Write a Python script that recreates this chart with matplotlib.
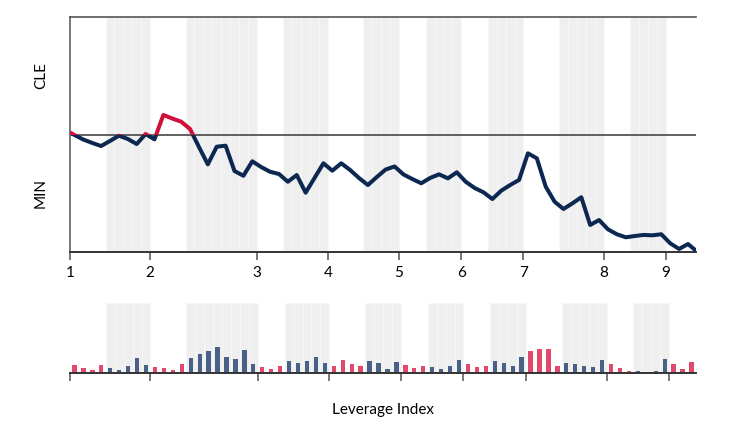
import matplotlib
matplotlib.use("Agg")
import matplotlib.pyplot as plt
from matplotlib.patches import Rectangle

plt.rcParams['font.family'] = ['Lato', 'DejaVu Sans']

# leverage line, one value per period (0..2 scale, 1 = MIN/CLE boundary)
lev_start = 1.017
lev = [0.996, 0.957, 0.928, 0.902, 0.945, 0.990, 0.962, 0.919, 1.004, 0.959,
       1.166, 1.136, 1.109, 1.047, 0.894, 0.746, 0.896, 0.905, 0.689, 0.649,
       0.772, 0.723, 0.683, 0.664, 0.598, 0.655, 0.505, 0.630, 0.755, 0.692,
       0.755, 0.698, 0.630, 0.570, 0.638, 0.702, 0.728, 0.660, 0.621, 0.585,
       0.630, 0.661, 0.627, 0.678, 0.598, 0.545, 0.508, 0.451, 0.522, 0.570,
       0.613, 0.840, 0.797, 0.556, 0.428, 0.366, 0.414, 0.466, 0.230, 0.272,
       0.193, 0.151, 0.125, 0.136, 0.145, 0.142, 0.151, 0.074, 0.026, 0.068]
lev_end = 0.011

# bar series, same periods
bars = [8.0, 5.7, 3.7, 8.0, 5.7, 3.7, 7.0, 15.0, 8.3, 6.0,
        5.3, 3.3, 9.0, 15.0, 19.3, 22.0, 26.3, 16.0, 14.3, 23.0,
        9.3, 6.3, 4.3, 7.3, 12.3, 10.0, 12.3, 16.7, 10.7, 7.3,
        13.7, 9.3, 7.7, 12.3, 10.3, 4.0, 11.7, 8.3, 5.3, 7.7,
        6.0, 4.0, 7.3, 13.3, 9.3, 6.3, 7.7, 12.3, 10.3, 7.3,
        16.0, 22.0, 24.3, 24.0, 7.0, 10.7, 9.3, 7.0, 6.7, 13.3,
        9.3, 5.0, 2.7, 2.3, 1.7, 2.7, 14.0, 9.0, 4.3, 11.7]

# shaded regimes: (first period, number of periods)
regimes = [(4, 5), (13, 8), (24, 5), (33, 4), (40, 4), (47, 4), (55, 5), (63, 4)]
tick_labels = ["1", "2", "3", "4", "5", "6", "7", "8", "9"]

navy = "#0c2851"
red = "#d0103a"
pink = "#e24a6d"
slate = "#4a6187"
shade = "#efefef"

n = len(lev)
shaded = [False] * n
for s, k in regimes:
    for i in range(s, s + k):
        shaded[i] = True
tick_pos = [0] + [s + k for s, k in regimes]

fig = plt.figure(figsize=(7.55, 4.37), dpi=100)
ax1 = fig.add_axes([70 / 755, 1 - 252 / 437, 626 / 755, 235 / 437])
ax2 = fig.add_axes([70 / 755, 1 - 373.3 / 437, 626 / 755, 70.6 / 437])

# ---- top: line chart
xmax = 70.4
ax1.set_xlim(0, xmax)
ax1.set_ylim(0, 2)
for s, k in regimes:
    for i in range(s, s + k):
        ax1.axvspan(i, i + 1, fc=shade, lw=0.5, ec="#f8f8f8", zorder=0)
ax1.axhline(1, color="#555555", lw=1.3, zorder=1)

xs = [0] + [i + 0.5 for i in range(n)] + [xmax]
ys = [lev_start] + lev + [lev_end]
lo, = ax1.plot(xs, ys, color=navy, lw=2.9, solid_joinstyle="round", solid_capstyle="butt", zorder=3)
hi, = ax1.plot(xs, ys, color=red, lw=2.9, solid_joinstyle="round", solid_capstyle="butt", zorder=4)
lo.set_clip_path(Rectangle((0, -1), xmax, 2, transform=ax1.transData))
hi.set_clip_path(Rectangle((0, 1), xmax, 2, transform=ax1.transData))

ax1.set_yticks([0.5, 1.5])
ax1.set_yticklabels(["MIN", "CLE"], rotation=90, va="center", fontsize=11)
ax1.tick_params(axis="y", length=0, pad=16)
ax1.set_xticks(tick_pos)
ax1.set_xticklabels(tick_labels, fontsize=11)
ax1.tick_params(axis="x", length=6, width=1.4, color="#777777", pad=4)
ax1.spines["right"].set_visible(False)
ax1.spines["top"].set_color("#555555")
ax1.spines["top"].set_linewidth(1.2)
ax1.spines["left"].set_color("#777777")
ax1.spines["left"].set_linewidth(1.4)
ax1.spines["bottom"].set_color("#333333")
ax1.spines["bottom"].set_linewidth(1.4)

# ---- bottom: bars
ax2.set_xlim(0, n)
ax2.set_ylim(0, 70.6)
for s, k in regimes:
    for i in range(s, s + k):
        ax2.axvspan(i, i + 1, fc=shade, lw=0.5, ec="#f8f8f8", zorder=0)
colors = [slate if sh else pink for sh in shaded]
ax2.bar([i + 0.5 for i in range(n)], bars, width=0.48, color=colors, zorder=2)
ax2.set_xticks(tick_pos)
ax2.set_xticklabels([])
ax2.tick_params(axis="x", length=6, width=1.4, color="#777777")
ax2.set_yticks([])
for side in ["top", "right", "left"]:
    ax2.spines[side].set_visible(False)
ax2.spines["bottom"].set_color("#333333")
ax2.spines["bottom"].set_linewidth(1.4)
ax2.set_xlabel("Leverage Index", fontsize=11, labelpad=12)

fig.savefig("out.png", dpi=100)
